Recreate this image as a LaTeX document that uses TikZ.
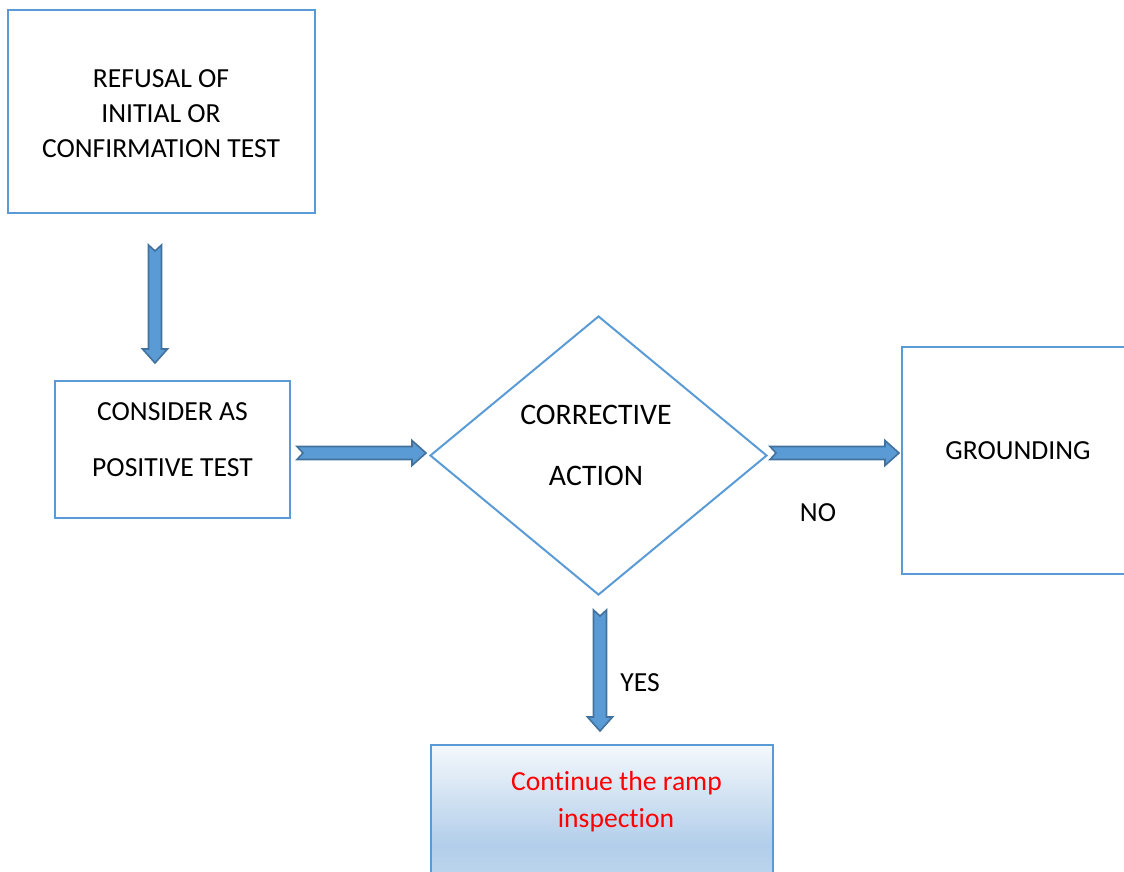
\documentclass[tikz,border=0pt]{standalone}
\usepackage{fontspec}
\setmainfont{Carlito}[Ligatures=NoCommon]
\usetikzlibrary{shapes.geometric,calc}

\definecolor{edgeblue}{HTML}{5B9BD5}
\definecolor{arrowfill}{HTML}{5B9BD5}
\definecolor{arrowline}{HTML}{41719C}
\definecolor{shadetop}{HTML}{F4F8FC}
\definecolor{shademid}{HTML}{B2CEEA}
\definecolor{shadelow}{HTML}{C4DAF0}

\tikzset{
  box/.style={draw=edgeblue, line width=2pt, rectangle, inner sep=0pt},
  label/.style={anchor=base, inner sep=0pt, font=\fontsize{27.6}{35}\selectfont},
  biglabel/.style={anchor=base, inner sep=0pt, font=\fontsize{29.8}{36}\selectfont},
  redlabel/.style={label, text=red},
  blockarrow/.style={fill=arrowfill, draw=arrowline, line width=1.6pt, line join=miter},
}

% notched block arrow between two named points
\newcommand\notchedarrow[2]{%
  \filldraw[blockarrow] let \p1=(#1), \p2=(#2),
      \n1={atan2(\y2-\y1,\x2-\x1)}, \n2={veclen(\x2-\x1,\y2-\y1)} in
    [shift={(\p1)}, rotate=\n1]
    (0,6.5) -- (\n2-14,6.5) -- (\n2-14,12.5) -- (\n2,0) -- (\n2-14,-12.5)
    -- (\n2-14,-6.5) -- (0,-6.5) -- (6,0) -- cycle;
}

\begin{document}
\begin{tikzpicture}[x=1pt, y=-1pt]
\useasboundingbox (0,0) rectangle (1124,871);
\clip (0,0) rectangle (1124,871);

% boxes
\node[box, minimum width=307pt, minimum height=203pt] (refusal) at (161.5,111.5) {};
\node[box, minimum width=235pt, minimum height=137pt] (consider) at (172.5,449.5) {};
\node[draw=edgeblue, line width=2pt, shape=diamond, inner sep=0pt,
      minimum width=337pt, minimum height=279pt] (action) at (598.5,455.5) {};
\node[box, minimum width=240pt, minimum height=227pt] (grounding) at (1022,460.5) {};

% shaded box at the bottom
\shade[top color=shadetop, bottom color=shademid] (431,745) rectangle (773,845);
\shade[top color=shademid, bottom color=shadelow] (431,845) rectangle (773,900);
\node[box, minimum width=342pt, minimum height=155pt] (ramp) at (602,822.5) {};

% texts
\node[label] (t1) at (161,87) {REFUSAL OF};
\node[label] (t2) at (161,122) {INITIAL OR};
\node[label] (t3) at (161,157) {CONFIRMATION TEST};
\node[label] (t4) at (172.5,420) {CONSIDER AS};
\node[label] (t5) at (172.5,476) {POSITIVE TEST};
\node[biglabel] (t6) at (596,424) {CORRECTIVE};
\node[biglabel] (t7) at (596,485) {ACTION};
\node[label] (t8) at (1018,459) {GROUNDING};
\node[label] (no) at (818,521) {NO};
\node[label] (yes) at (640,691) {YES};
\node[redlabel] (t9) at (616.5,790) {Continue the ramp};
\node[redlabel] (t10) at (616,827) {inspection};

% arrow end points
\coordinate (a1s) at (155,245);
\coordinate (a1e) at (155,363);
\coordinate (a2s) at (297,453);
\coordinate (a2e) at (426,453);
\coordinate (a3s) at (770,453);
\coordinate (a3e) at (899,453);
\coordinate (a4s) at (600,610);
\coordinate (a4e) at (600,731);

\notchedarrow{a1s}{a1e}
\notchedarrow{a2s}{a2e}
\notchedarrow{a3s}{a3e}
\notchedarrow{a4s}{a4e}
\end{tikzpicture}
\end{document}
